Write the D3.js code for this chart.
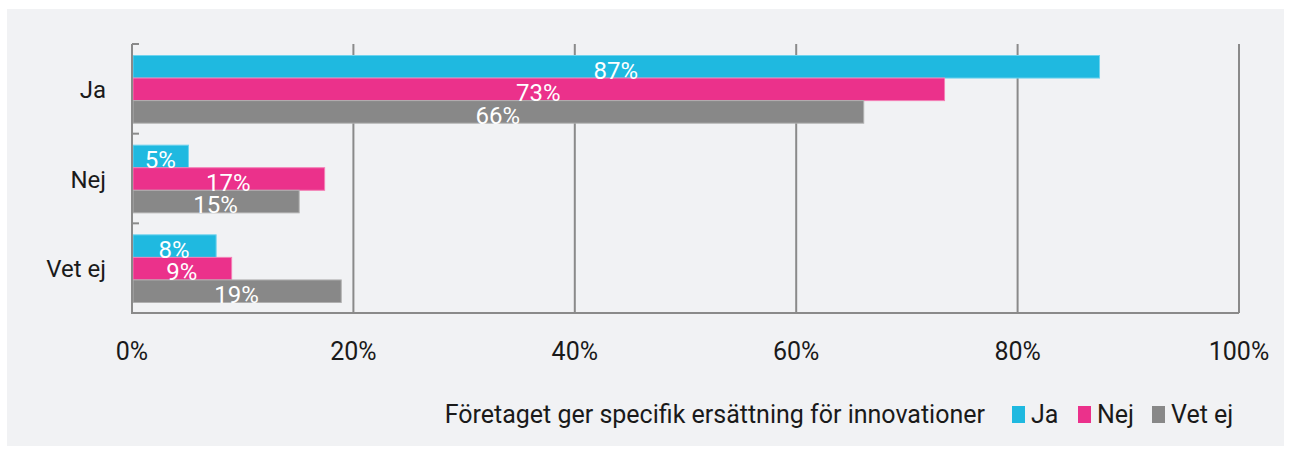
<!DOCTYPE html>
<html>
<head>
<meta charset="utf-8">
<script src="https://cdn.jsdelivr.net/npm/d3@7"></script>
<style>
  body { margin: 0; background: #fff; }
  svg text { font-family: Roboto, "Noto Sans", sans-serif; }
</style>
</head>
<body>
<svg id="chart" width="1291" height="454"></svg>
<script>
// data
var categories = ["Ja", "Nej", "Vet ej"];
var seriesNames = ["Ja", "Nej", "Vet ej"];
var valJa = [87.4, 5.1, 7.6];
var valNej = [73.4, 17.4, 9.0];
var valVetEj = [66.1, 15.1, 18.9];
var xTicks = [0, 20, 40, 60, 80, 100];
var legendTitle = "Företaget ger specifik ersättning för innovationer";

var colors = ["#1fb9e0", "#eb318b", "#888888"];
var strokes = ["#6fd3ee", "#f47fb5", "#b0b0b0"];

var svg = d3.select("#chart"),
    margin = {top: 44, left: 132, right: 52, bottom: 141},
    width = 1291 - margin.left - margin.right,
    height = 454 - margin.top - margin.bottom;

// panel background
svg.append("rect")
    .attr("x", 7).attr("y", 9)
    .attr("width", 1277).attr("height", 437)
    .attr("fill", "#f1f2f4");

var rows = seriesNames.map(function(s, i) {
    return {name: s, values: [valJa, valNej, valVetEj][i]};
});

var x = d3.scaleLinear().domain([0, 100]).range([0, width]);
var y = d3.scaleBand().domain(categories).range([0, height]);
var y1 = d3.scaleBand().domain(seriesNames).range([11.5, y.bandwidth() - 10.5]);

var g = svg.append("g")
    .attr("transform", "translate(" + margin.left + "," + margin.top + ")");

// gridlines
g.selectAll(".grid")
    .data(xTicks)
    .enter().append("line")
    .attr("x1", function(d) { return x(d); })
    .attr("x2", function(d) { return x(d); })
    .attr("y1", 0).attr("y2", height)
    .attr("stroke", "#8a8a8a")
    .attr("stroke-width", 2);

// bottom axis line
g.append("line")
    .attr("x1", 0).attr("x2", width)
    .attr("y1", height).attr("y2", height)
    .attr("stroke", "#8a8a8a").attr("stroke-width", 2);

// left category ticks
g.selectAll(".ytick")
    .data(categories)
    .enter().append("line")
    .attr("x1", 0).attr("x2", 7)
    .attr("y1", function(d) { return y(d); })
    .attr("y2", function(d) { return y(d); })
    .attr("stroke", "#8a8a8a").attr("stroke-width", 2);

// bars
var groups = g.selectAll(".cat")
    .data(categories)
    .enter().append("g")
    .attr("transform", function(d) { return "translate(0," + y(d) + ")"; });

groups.selectAll("rect")
    .data(function(c, ci) {
        return rows.map(function(r, si) { return {s: r.name, si: si, v: r.values[ci]}; });
    })
    .enter().append("rect")
    .attr("x", x(0) + 1)
    .attr("y", function(d) { return y1(d.s); })
    .attr("width", function(d) { return x(d.v) - x(0) - 1; })
    .attr("height", y1.bandwidth())
    .attr("fill", function(d) { return colors[d.si]; })
    .attr("stroke", function(d) { return strokes[d.si]; })
    .attr("stroke-width", 1);

groups.selectAll("text")
    .data(function(c, ci) {
        return rows.map(function(r, si) { return {s: r.name, si: si, v: r.values[ci]}; });
    })
    .enter().append("text")
    .attr("x", function(d) { return (x(0) + x(d.v)) / 2; })
    .attr("y", function(d) { return y1(d.s) + y1.bandwidth() + 0.5; })
    .attr("text-anchor", "middle")
    .attr("fill", "#fff")
    .style("font-size", "24px")
    .text(function(d) { return Math.round(d.v) + "%"; });

// left axis line (drawn over bars)
g.append("line")
    .attr("x1", 0).attr("x2", 0)
    .attr("y1", 0).attr("y2", height + 1)
    .attr("stroke", "#8a8a8a").attr("stroke-width", 2);

// category labels
g.selectAll(".ylab")
    .data(categories)
    .enter().append("text")
    .attr("x", -26)
    .attr("y", function(d) { return y(d) + y.bandwidth() / 2 + 9; })
    .attr("text-anchor", "end")
    .attr("fill", "#1a1a1a")
    .style("font-size", "24px")
    .text(function(d) { return d; });

// x tick labels
g.selectAll(".xlab")
    .data(xTicks)
    .enter().append("text")
    .attr("x", function(d) { return x(d); })
    .attr("y", height + 47)
    .attr("text-anchor", "middle")
    .attr("fill", "#1a1a1a")
    .style("font-size", "25px")
    .text(function(d) { return d + "%"; });

// legend
var legend = svg.append("g").attr("transform", "translate(0,423)");
legend.append("text")
    .attr("x", 985).attr("text-anchor", "end")
    .attr("fill", "#1a1a1a")
    .style("font-size", "25px")
    .text(legendTitle);

var legendX = [1012, 1078, 1152];
seriesNames.forEach(function(s, i) {
    legend.append("rect")
        .attr("x", legendX[i]).attr("y", -17)
        .attr("width", 13).attr("height", 17)
        .attr("fill", colors[i]);
    legend.append("text")
        .attr("x", legendX[i] + 19)
        .attr("fill", "#1a1a1a")
        .style("font-size", "25px")
        .text(s);
});
</script>
</body>
</html>
